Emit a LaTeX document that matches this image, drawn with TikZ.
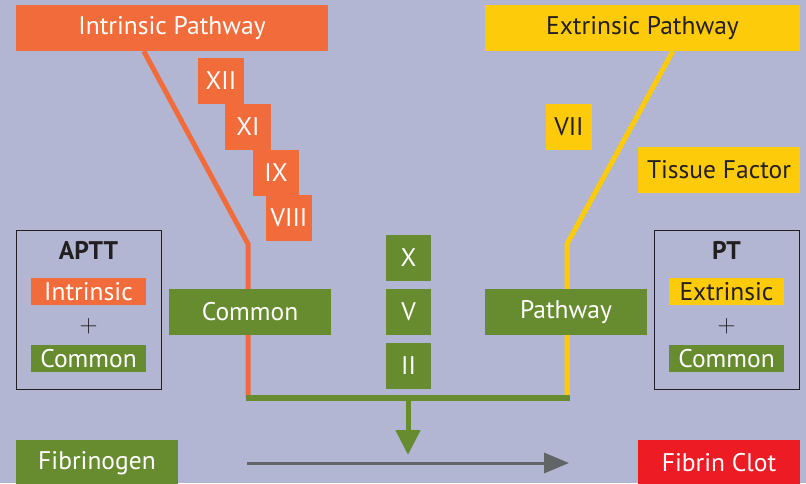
\documentclass[tikz,border=0pt]{standalone}
\usepackage{fontspec}
\setmainfont{PT Sans}
\usepackage{tikz}
\usetikzlibrary{arrows.meta}
\definecolor{lavender}{RGB}{178,182,210}
\definecolor{intrOrange}{RGB}{242,107,58}
\definecolor{extrYellow}{RGB}{253,203,10}
\definecolor{commGreen}{RGB}{103,139,47}
\definecolor{clotRed}{RGB}{237,28,36}
\definecolor{arrowGray}{RGB}{99,100,102}
\definecolor{darkText}{RGB}{35,31,32}
\pgfdeclarelayer{bg}
\pgfdeclarelayer{lines}
\pgfsetlayers{bg,lines,main}
\tikzset{every node/.style={font=\fontsize{25.5}{28}\selectfont}}
\tikzstyle{intrbox}=[rectangle,fill=intrOrange,text=white,inner sep=0pt,minimum height=46pt]
\tikzstyle{extrbox}=[rectangle,fill=extrYellow,text=darkText,inner sep=0pt,minimum height=46pt]
\tikzstyle{commbox}=[rectangle,fill=commGreen,text=white,inner sep=0pt,minimum height=46pt]
\tikzstyle{testbox}=[rectangle,draw=darkText,line width=1pt,inner sep=0pt,minimum width=145pt,minimum height=159pt]
\tikzstyle{hilite}=[rectangle,inner sep=0pt,minimum width=115pt,minimum height=27pt]

\begin{document}
\begin{tikzpicture}[x=1pt,y=-1pt]
	\begin{pgfonlayer}{bg}
		\fill[lavender] (0,0) rectangle (806,483);
	\end{pgfonlayer}
	\useasboundingbox (0,0) rectangle (806,483);
	
	% pathways
	\node at (172,28) [intrbox,minimum width=312pt] (intr) {Intrinsic Pathway};
	\node at (642.5,28) [extrbox,minimum width=315pt] (extr) {Extrinsic Pathway};
	\node at (221,81) [intrbox,minimum width=46pt] (f12) {XII};
	\node at (248,127) [intrbox,minimum width=46pt] (f11) {XI};
	\node at (276,173) [intrbox,minimum width=46pt] (f9) {IX};
	\node at (289,218) [intrbox,minimum width=46pt] (f8) {VIII};
	\node at (569,127) [extrbox,minimum width=46pt] (f7) {VII};
	\node at (719,170) [extrbox,minimum width=162pt] (tf) {Tissue Factor};
	\node at (250,312) [commbox,minimum width=162pt] (comm) {Common};
	\node at (566,312) [commbox,minimum width=162pt] (path) {Pathway};
	\node at (408.5,258) [commbox,minimum width=45pt] (f10) {X};
	\node at (408.5,312) [commbox,minimum width=45pt] (f5) {V};
	\node at (408.5,366) [commbox,minimum width=45pt] (f2) {II};
	
	% tests
	\node at (88.5,309.5) [testbox] (aptt) {};
	\node at (88.5,250) [text=darkText] (apttlabel) {\bfseries APTT};
	\node at (88.5,291.5) [hilite,fill=intrOrange,text=white] (apttintr) {Intrinsic};
	\node at (88.5,326) [text=darkText] (apttplus) {$+$};
	\node at (88.5,358.5) [hilite,fill=commGreen,text=white] (apttcomm) {Common};
	\node at (726.5,309.5) [testbox] (pt) {};
	\node at (726.5,250) [text=darkText] (ptlabel) {\bfseries PT};
	\node at (726.5,291.5) [hilite,fill=extrYellow,text=darkText] (ptextr) {Extrinsic};
	\node at (726.5,326) [text=darkText] (ptplus) {$+$};
	\node at (726.5,358.5) [hilite,fill=commGreen,text=white] (ptcomm) {Common};
	
	\node at (97,463) [commbox,minimum width=162pt] (fgen) {Fibrinogen};
	\node at (719,463) [commbox,fill=clotRed,minimum width=162pt] (clot) {Fibrin Clot};
	
	\coordinate (ibend) at (248,244);
	\coordinate (ejoin) at (567,244);
	\coordinate (ileft) at (248,398);
	\coordinate (eright) at (567,398);
	\coordinate (mid) at (408,398);
	\coordinate (gstart) at (247,463);
	\coordinate (gend) at (569,463);
	
	\begin{pgfonlayer}{lines}
		\draw [intrOrange,line width=5pt] ([xshift=128pt]intr.south west) -- (ibend) -- (ileft);
		\draw [extrYellow,line width=5pt] ([xshift=188pt]extr.south west) -- (ejoin) -- (eright);
		\draw [commGreen,line width=6pt] ([xshift=-2.5pt]ileft) -- ([xshift=2.5pt]eright);
	\end{pgfonlayer}
	\draw [commGreen,line width=5pt,-{Triangle[length=25pt,width=24pt]}] (mid) -- ++(0,57);
	\draw [arrowGray,line width=3pt,-{Triangle[length=25pt,width=20pt]}] (gstart) -- (gend);
\end{tikzpicture}
\end{document}
